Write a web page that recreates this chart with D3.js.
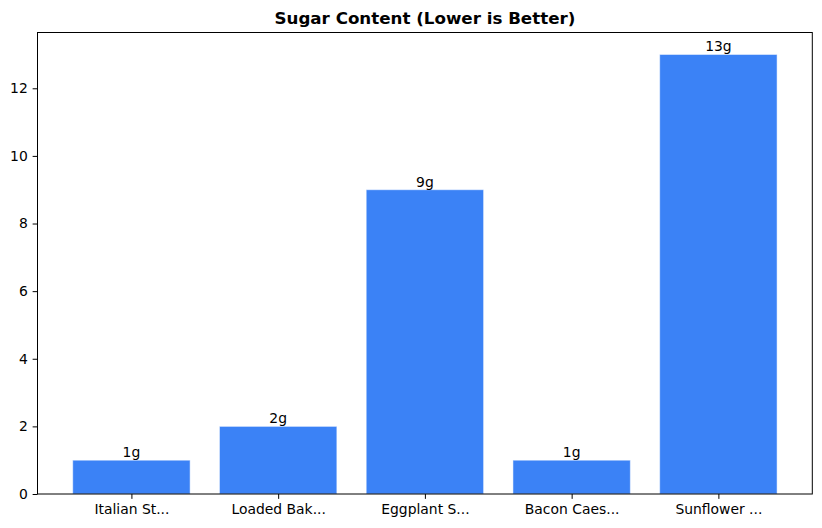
<!DOCTYPE html>
<html><head><meta charset="utf-8">
<script src="https://cdn.jsdelivr.net/npm/d3@7"></script>
<style>body{margin:0;background:#fff}svg{display:block}text{font-family:"DejaVu Sans",sans-serif}</style>
</head><body><svg id="c" width="822" height="528"></svg>
<script>
const categories = ["Italian St...", "Loaded Bak...", "Eggplant S...", "Bacon Caes...", "Sunflower ..."];
const sugar = [1, 2, 9, 1, 13];
const yTicks = [0, 2, 4, 6, 8, 10, 12];
const title = "Sugar Content (Lower is Better)";

const svg = d3.select("#c");
const L = 37.5, R = 812.3, T = 32.5, B = 494;
const n = categories.length;
const x = d3.scaleLinear().domain([-0.64, n - 1 + 0.64]).range([L, R]);
const y = d3.scaleLinear().domain([0, d3.max(sugar) * 1.05]).range([B, T]);
const bw = 0.8;

svg.append("g").selectAll("rect").data(sugar).join("rect")
  .attr("x", (d, i) => x(i - bw / 2))
  .attr("width", (d, i) => x(i + bw / 2) - x(i - bw / 2))
  .attr("y", d => y(d))
  .attr("height", d => B - y(d))
  .attr("fill", "#3b82f6")
  .attr("stroke", "#ffffff").attr("stroke-opacity", 0.5).attr("stroke-width", 1);

svg.append("g").selectAll("text").data(sugar).join("text")
  .attr("x", (d, i) => x(i)).attr("y", d => y(d) - 3)
  .attr("text-anchor", "middle").attr("font-size", "13.9px").attr("fill", "#000")
  .text(d => d + "g");

// axes frame
svg.append("rect").attr("x", L).attr("y", T).attr("width", R - L).attr("height", B - T)
  .attr("fill", "none").attr("stroke", "#000").attr("stroke-width", 1);

const yAxis = d3.axisLeft(y).tickValues(yTicks).tickSize(4.86).tickPadding(4.86).tickFormat(d3.format("d"));
const gy = svg.append("g").attr("transform", `translate(${L},0)`).call(yAxis);
gy.select(".domain").remove();
gy.selectAll("text").attr("font-size", "13.9px").attr("fill", "#000").attr("font-family", "DejaVu Sans");

const xAxis = d3.axisBottom(x).tickValues(d3.range(n)).tickSize(4.86).tickPadding(4.86).tickFormat(i => categories[i]);
const gx = svg.append("g").attr("transform", `translate(0,${B})`).call(xAxis);
gx.select(".domain").remove();
gx.selectAll("text").attr("font-size", "13.9px").attr("fill", "#000").attr("font-family", "DejaVu Sans");

svg.append("text").attr("x", (L + R) / 2).attr("y", 24).attr("text-anchor", "middle")
  .attr("font-size", "16.7px").attr("font-weight", "bold").attr("fill", "#000").text(title);
</script></body></html>
